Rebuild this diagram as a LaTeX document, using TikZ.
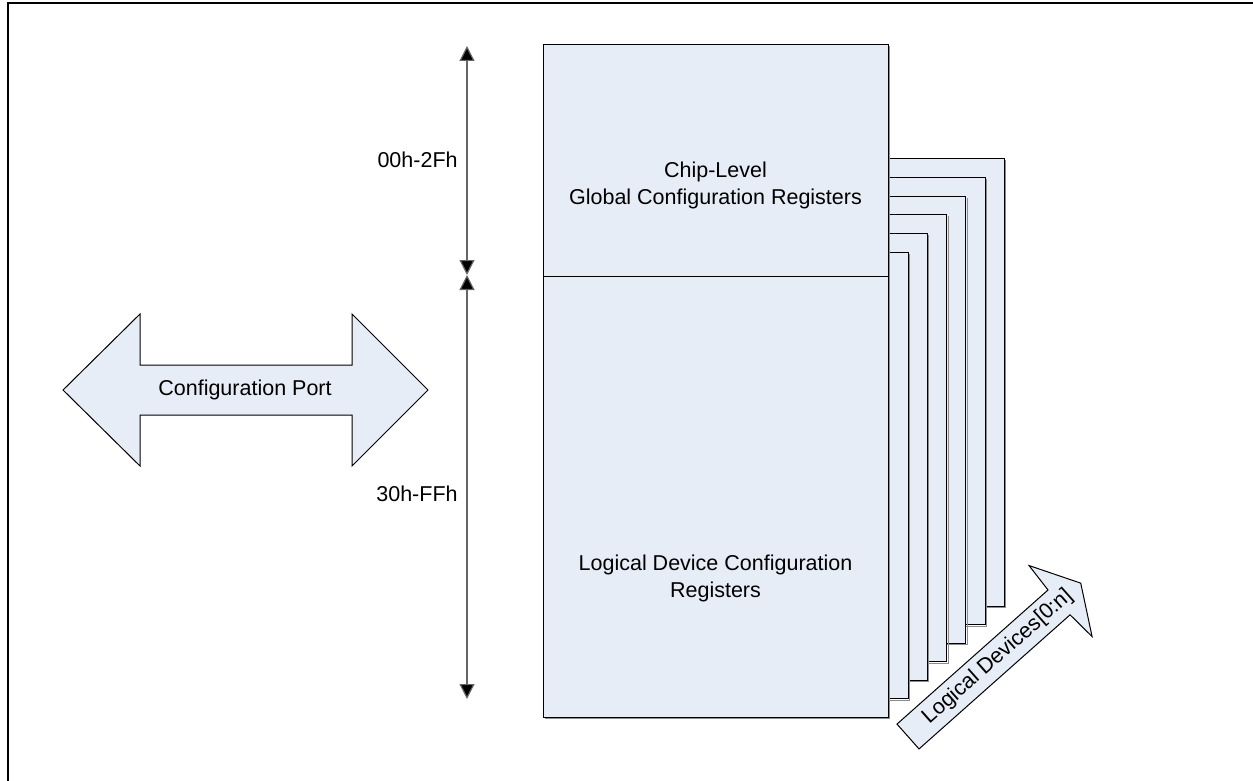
\documentclass[tikz,border=0pt]{standalone}
\usepackage{fontspec}
\setmainfont{Liberation Sans}
\usetikzlibrary{arrows.meta}
\definecolor{boxfill}{RGB}{231,237,247}
\begin{document}
\begin{tikzpicture}[x=0.5pt,y=-0.5pt,
  lbl/.style={font=\fontsize{10.75pt}{13.5pt}\selectfont, align=center, inner sep=0},
  page/.style={draw=black, fill=boxfill, line width=0.5pt},
  shadowline/.style={draw=black!45, line width=0.5pt},
  dimarrow/.style={draw=black!60, line width=0.6pt, {Triangle[width=7.5pt,length=7.5pt,fill=black]}-{Triangle[width=7.5pt,length=7.5pt,fill=black]}}]
\useasboundingbox (0,0) rectangle (1253,781);
\draw[line width=1pt] (8,781) -- (8,3.5) -- (1253,3.5);
% stacked pages of logical devices
\foreach \k in {6,5,4,3,2,1} {
  \pgfmathsetmacro\r{889+19.2*\k}
  \pgfmathsetmacro\t{271-18.7*\k}
  \pgfmathsetmacro\b{717-18.5*\k}
  \draw[page] (600,\t) rectangle (\r,\b);
  \draw[shadowline] (\r+1.5,\t+1.5) -- (\r+1.5,\b+1.5) -- (600,\b+1.5);
}
% main box
\coordinate (mtl) at (543,45);
\coordinate (mbr) at (888,717);
\coordinate (dl) at (543,276);
\coordinate (dr) at (888,276);
\draw[page] (mtl) rectangle (mbr);
\draw[shadowline] (889.5,46.5) -- (889.5,718.5) -- (544.5,718.5);
\draw[line width=0.5pt] (dl) -- (dr);
\node[lbl] (chip) at (715.5,185) {Chip-Level\\Global Configuration Registers};
\node[lbl] (ldev) at (715.5,578) {Logical Device Configuration\\Registers};
% dimension arrows
\coordinate (a1) at (467,46);
\coordinate (a2) at (467,275);
\coordinate (a3) at (467,699);
\draw[dimarrow] (a2) -- (a1);
\draw[dimarrow] (a2) -- (a3);
\node[lbl, anchor=east] (r1) at (458,160) {00h-2Fh};
\node[lbl, anchor=east] (r2) at (458,494) {30h-FFh};
% configuration port double arrow
\draw[page] (63,390) -- (140,314) -- (140,365) -- (352,365) -- (352,314) -- (428,390)
  -- (352,466) -- (352,415) -- (140,415) -- (140,466) -- cycle;
\node[lbl] (cport) at (245,390) {Configuration Port};
% logical devices arrow
\begin{scope}[shift={(908,736.5)}, rotate=41.6]
  \draw[page] (0,-16.6) -- (202,-16.6) -- (204,-47.5) -- (231,0) -- (204,47.5)
    -- (202,16.6) -- (0,16.6) -- cycle;
  \node[lbl, rotate=41.6] (ldn) at (120,0) {Logical Devices[0:n]};
\end{scope}
\end{tikzpicture}
\end{document}
